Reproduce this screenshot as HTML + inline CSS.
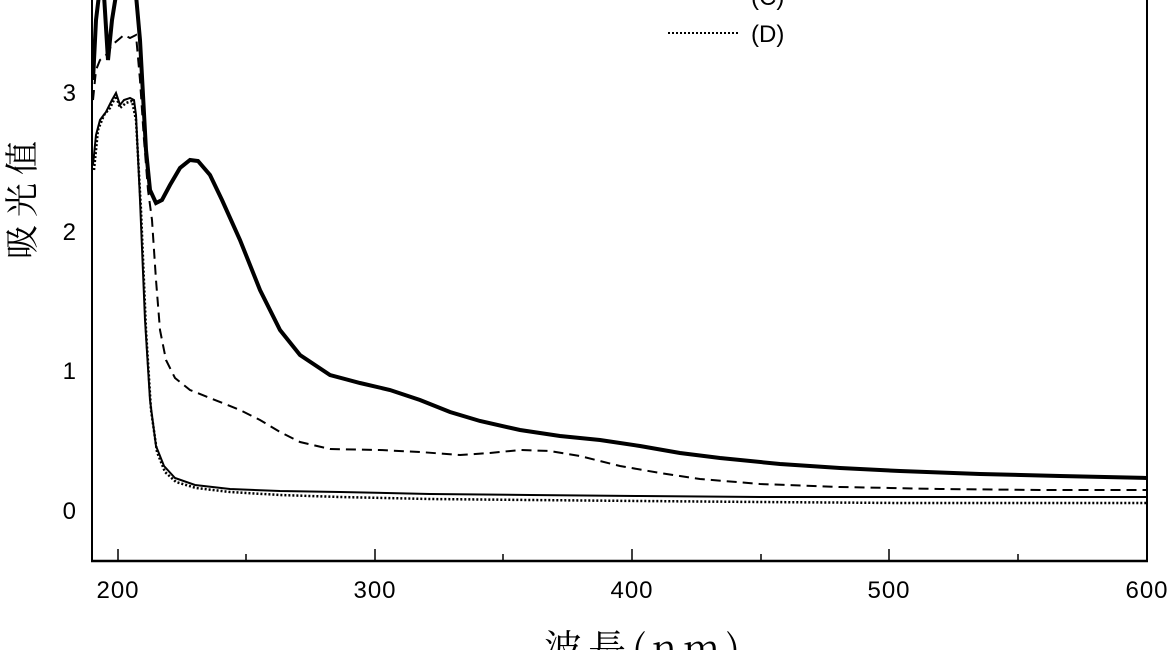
<!DOCTYPE html>
<html><head><meta charset="utf-8"><style>
html,body{margin:0;padding:0;background:#fff;}
svg{display:block;}
text{font-family:"Liberation Sans","Noto Sans CJK SC",sans-serif;fill:#000;}
</style></head><body>
<svg width="1170" height="650" viewBox="0 0 1170 650" xmlns="http://www.w3.org/2000/svg">
<g stroke="#000" fill="none">
<line x1="92" y1="0" x2="92" y2="561" stroke-width="2"/>
<line x1="1147" y1="0" x2="1147" y2="561" stroke-width="2"/>
<line x1="91" y1="561" x2="1148" y2="561" stroke-width="2.5"/>
<line x1="118" y1="561" x2="118" y2="549" stroke-width="1.5"/>
<line x1="246" y1="561" x2="246" y2="554" stroke-width="1.5"/>
<line x1="375" y1="561" x2="375" y2="549" stroke-width="1.5"/>
<line x1="503" y1="561" x2="503" y2="554" stroke-width="1.5"/>
<line x1="632" y1="561" x2="632" y2="549" stroke-width="1.5"/>
<line x1="761" y1="561" x2="761" y2="554" stroke-width="1.5"/>
<line x1="889" y1="561" x2="889" y2="549" stroke-width="1.5"/>
<line x1="1018" y1="561" x2="1018" y2="554" stroke-width="1.5"/>
<path stroke-width="4" d="M93,80 L96,20 L99,-5 M104,-5 L108,60 L112,20 L116,-5 M136,-5 L140,40 L146,150 L150,190 L156,203 L162,200 L170,185 L180,168 L190,160 L198,161 L210,175 L222,200 L240,240 L260,290 L280,330 L300,355 L330,375 L360,383 L390,390 L420,400 L450,412 L480,421 L520,430 L560,436 L600,440 L640,446 L680,453 L720,458 L780,464 L840,468 L900,471 L980,474 L1060,476 L1147,478"/>
<path stroke-width="2" stroke-dasharray="10,6" d="M93,100 L96,70 L100,60 L106,55 L112,45 L118,40 L124,35 L130,38 L136,35 L140,80 L144,140 L148,190 L152,220 L156,280 L160,330 L166,360 L175,378 L190,390 L210,398 L240,410 L260,420 L280,432 L300,442 L330,449 L380,450 L420,452 L460,455 L490,453 L520,450 L550,451 L580,456 L620,466 L660,473 L700,479 L760,484 L840,487 L940,489 L1040,490 L1147,490"/>
<path stroke-width="2" d="M93,165 L96,135 L100,120 L106,112 L112,100 L116,93 L120,105 L124,100 L130,98 L134,100 L136,115 L140,200 L145,320 L150,400 L156,446 L164,466 L175,478 L195,485 L230,489 L280,491 L340,492 L430,494 L530,495 L640,496 L760,497 L900,497 L1147,497"/>
<path stroke-width="2.5" stroke-dasharray="2,2" d="M94,170 L98,130 L104,115 L110,108 L116,96 L120,108 L126,103 L132,101 L136,120 L141,210 L146,330 L151,410 L157,452 L165,472 L176,482 L196,488 L230,492 L280,495 L340,497 L430,499 L530,500 L640,501 L760,502 L900,503 L1147,503"/>
<line x1="668" y1="33" x2="740" y2="33" stroke-width="2" stroke-dasharray="2,2"/>
<line x1="668" y1="-3" x2="740" y2="-3" stroke-width="2"/>
</g>
<text x="751" y="42" font-size="24">(D)</text>
<text x="751" y="5" font-size="24">(C)</text>
<text x="76" y="519" font-size="24" text-anchor="end">0</text>
<text x="76" y="379" font-size="24" text-anchor="end">1</text>
<text x="76" y="240" font-size="24" text-anchor="end">2</text>
<text x="76" y="101" font-size="24" text-anchor="end">3</text>
<text x="118" y="598" font-size="24" text-anchor="middle" letter-spacing="1">200</text>
<text x="375" y="598" font-size="24" text-anchor="middle" letter-spacing="1">300</text>
<text x="632" y="598" font-size="24" text-anchor="middle" letter-spacing="1">400</text>
<text x="889" y="598" font-size="24" text-anchor="middle" letter-spacing="1">500</text>
<text x="1147" y="598" font-size="24" text-anchor="middle" letter-spacing="1">600</text>
<text x="645" y="662" font-size="38" text-anchor="middle" letter-spacing="6" style="font-family:'Noto Serif CJK SC','Liberation Serif',serif">波長(nm)</text>
<text transform="translate(34,196) rotate(-90)" font-size="34" text-anchor="middle" letter-spacing="8" style="font-family:'Noto Serif CJK SC','Liberation Serif',serif">吸光值</text>
</svg>
</body></html>
